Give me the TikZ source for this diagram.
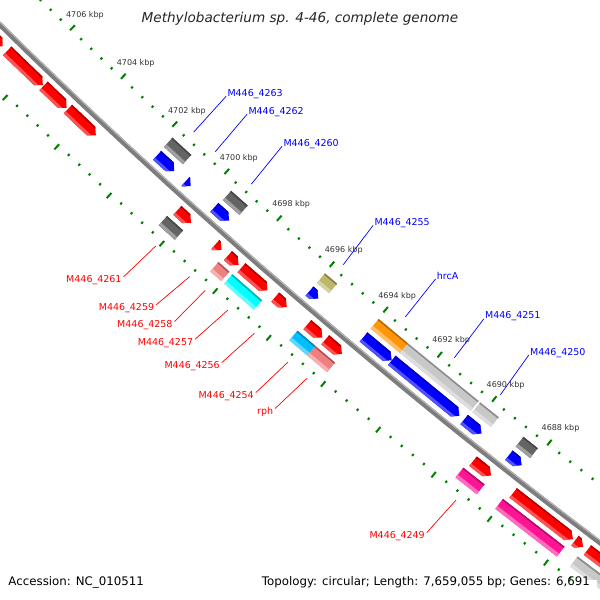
\documentclass[tikz,border=0pt]{standalone}
\usepackage{fontspec}
\setmainfont{DejaVu Sans}
\definecolor{tkgreen}{RGB}{0,128,0}
\definecolor{lblblue}{RGB}{0,0,255}
\definecolor{lblred}{RGB}{255,0,0}
\definecolor{fred}{RGB}{255,0,0}
\definecolor{fblue}{RGB}{0,0,255}
\definecolor{fdgray}{RGB}{100,100,100}
\definecolor{flgray}{RGB}{200,200,200}
\definecolor{folive}{RGB}{189,183,107}
\definecolor{forange}{RGB}{255,150,10}
\definecolor{fcyan}{RGB}{0,255,255}
\definecolor{fsky}{RGB}{0,191,255}
\definecolor{fsalmon}{RGB}{240,128,128}
\definecolor{fpink}{RGB}{255,20,147}
\definecolor{bbgray}{RGB}{125,125,125}
\definecolor{bblight}{RGB}{180,180,180}
\definecolor{ticktext}{RGB}{51,51,51}
\pgfkeys{/gcs/.cd, k/.store in=\gk, r/.store in=\gr, k=4700, r=6189}
\tikzdeclarecoordinatesystem{g}{%
  \pgfkeys{/gcs/.cd,#1}%
  \pgfmathsetmacro\gD{0.0057212*(\gk-4696.9396)}%
  \pgfmathsetmacro\gC{1-\gD*\gD/2}%
  \pgfmathsetmacro\gS{\gD-\gD*\gD*\gD/6}%
  \pgfmathsetmacro\gx{4336-(\gr)*(0.656059*\gC+0.754710*\gS)}%
  \pgfmathsetmacro\gy{-4392+(\gr)*(0.754710*\gC-0.656059*\gS)}%
  \pgfpointxy{\gx}{\gy}%
}
% arrow feature: k1 (start), k2 (tip), rin, rout, colour
\newcommand\arrowfeat[5]{%
  \pgfmathsetmacro\gkb{min(#1,#2+0.18)}%
  \pgfmathsetmacro\grmid{(#3+#4)/2}%
  \begin{scope}
    \fill[#5] (g cs:k=#1,r=#3) -- (g cs:k=\gkb,r=#3) -- (g cs:k=#2,r=\grmid) -- (g cs:k=\gkb,r=#4) -- (g cs:k=#1,r=#4) -- cycle;
    \clip (g cs:k=#1,r=#3) -- (g cs:k=\gkb,r=#3) -- (g cs:k=#2,r=\grmid) -- (g cs:k=\gkb,r=#4) -- (g cs:k=#1,r=#4) -- cycle;
    \fill[#5!68!white] (g cs:k=#1+0.3,r=#4-3) -- (g cs:k=#2-0.3,r=#4-3) -- (g cs:k=#2-0.3,r=#4+1) -- (g cs:k=#1+0.3,r=#4+1) -- cycle;
    \fill[#5!70!black] (g cs:k=#1+0.3,r=#3-1) -- (g cs:k=#2-0.3,r=#3-1) -- (g cs:k=#2-0.3,r=#3+1.6) -- (g cs:k=#1+0.3,r=#3+1.6) -- cycle;
  \end{scope}
}
% box feature: k1, k2, rin, rout, colour
\newcommand\boxfeat[5]{%
  \begin{scope}
    \fill[#5] (g cs:k=#1,r=#3) -- (g cs:k=#2,r=#3) -- (g cs:k=#2,r=#4) -- (g cs:k=#1,r=#4) -- cycle;
    \clip (g cs:k=#1,r=#3) -- (g cs:k=#2,r=#3) -- (g cs:k=#2,r=#4) -- (g cs:k=#1,r=#4) -- cycle;
    \fill[#5!62!white] (g cs:k=#1+0.3,r=#4-3.5) -- (g cs:k=#2-0.3,r=#4-3.5) -- (g cs:k=#2-0.3,r=#4+1) -- (g cs:k=#1+0.3,r=#4+1) -- cycle;
    \fill[#5!70!black] (g cs:k=#1+0.3,r=#3-1) -- (g cs:k=#2-0.3,r=#3-1) -- (g cs:k=#2-0.3,r=#3+1.6) -- (g cs:k=#1+0.3,r=#3+1.6) -- cycle;
  \end{scope}
}
\begin{document}
\begin{tikzpicture}[x=1pt,y=-1pt,
  tickmark/.style={draw=tkgreen, line width=2pt},
  ticklbl/.style={text=ticktext, font=\fontsize{8}{9}\selectfont, inner sep=0pt},
  ulbl/.style={text=lblblue, font=\fontsize{9.5}{11}\selectfont, inner sep=0pt, anchor=base west},
  llbl/.style={text=lblred, font=\fontsize{9.5}{11}\selectfont, inner sep=0pt, anchor=base east},
  uline/.style={draw=lblblue, line width=0.7pt},
  lline/.style={draw=lblred, line width=0.7pt},
  legend/.style={text=black, font=\fontsize{11.8}{14}\selectfont, inner sep=0pt}]
\useasboundingbox (0,0) rectangle (600,600);
\clip (0,0) rectangle (600,600);
\fill[white] (0,0) rectangle (600,600);

% ticks
\foreach \n in {-62,...,8}{
  \pgfmathsetmacro\kk{4706+0.4*\n}
  \pgfmathtruncatemacro\mj{mod(abs(\n),5)==0 ? 1 : 0}
  \ifnum\mj=1
    \draw[tickmark] (g cs:k=\kk,r=6137.5) -- (g cs:k=\kk,r=6144.5);
    \draw[tickmark] (g cs:k=\kk,r=6234.5) -- (g cs:k=\kk,r=6241.5);
  \else
    \draw[tickmark] (g cs:k=\kk,r=6142) -- (g cs:k=\kk,r=6144.5);
    \draw[tickmark] (g cs:k=\kk,r=6234.5) -- (g cs:k=\kk,r=6237);
  \fi
}
\foreach \kv in {4706,4704,...,4688}{
  \node[ticklbl] (t\kv) at (g cs:k=\kv,r=6123) {\kv{} kbp};
}

% backbone
\draw[bbgray, line width=5pt] plot[domain=4683:4710, samples=40] (g cs:k=\x,r=6189.5);
\draw[bblight, line width=1.2pt] plot[domain=4683:4710, samples=40] (g cs:k=\x,r=6187.6);

% upper lane 2 (boxes)
\boxfeat{4701.79}{4701.06}{6152.5}{6165}{fdgray}
\boxfeat{4699.54}{4698.91}{6152.5}{6165}{fdgray}
\boxfeat{4695.98}{4695.53}{6152.5}{6165}{folive}
\boxfeat{4693.98}{4692.90}{6152.5}{6165}{forange}
\boxfeat{4692.90}{4690.31}{6152.5}{6165}{flgray}
\boxfeat{4690.25}{4689.58}{6152.5}{6165}{flgray}
\boxfeat{4688.68}{4688.16}{6152.5}{6165}{fdgray}
% upper lane 1 (blue arrows)
\arrowfeat{4701.77}{4701.11}{6170}{6182}{fblue}
\arrowfeat{4700.68}{4700.48}{6170}{6182}{fblue}
\arrowfeat{4699.58}{4699.02}{6170}{6182}{fblue}
\arrowfeat{4695.99}{4695.66}{6170}{6182}{fblue}
\arrowfeat{4693.98}{4692.95}{6170}{6182}{fblue}
\arrowfeat{4692.95}{4690.47}{6170}{6182}{fblue}
\arrowfeat{4690.30}{4689.67}{6170}{6182}{fblue}
\arrowfeat{4688.68}{4688.22}{6170}{6182}{fblue}
% lower lane 1 (red arrows)
\arrowfeat{4708.60}{4707.05}{6197}{6209}{fred}
\arrowfeat{4706.87}{4705.48}{6197}{6209}{fred}
\arrowfeat{4705.45}{4704.55}{6197}{6209}{fred}
\arrowfeat{4704.50}{4703.42}{6197}{6209}{fred}
\arrowfeat{4700.30}{4699.78}{6197}{6209}{fred}
\arrowfeat{4698.86}{4698.63}{6197}{6209}{fred}
\arrowfeat{4698.39}{4697.99}{6197}{6209}{fred}
\arrowfeat{4697.88}{4696.90}{6197}{6209}{fred}
\arrowfeat{4696.61}{4696.18}{6197}{6209}{fred}
\arrowfeat{4695.42}{4694.86}{6197}{6209}{fred}
\arrowfeat{4694.76}{4694.14}{6197}{6209}{fred}
\arrowfeat{4689.37}{4688.72}{6197}{6209}{fred}
\arrowfeat{4687.93}{4685.80}{6197}{6209}{fred}
\arrowfeat{4685.73}{4685.44}{6197}{6209}{fred}
\arrowfeat{4685.29}{4684.00}{6197}{6209}{fred}
% lower lane 2 (boxes)
\boxfeat{4700.41}{4699.80}{6214}{6226.5}{fdgray}
\boxfeat{4698.47}{4698.06}{6214}{6226.5}{fsalmon}
\boxfeat{4697.95}{4696.83}{6214}{6226.5}{fcyan}
\boxfeat{4695.52}{4694.85}{6214}{6226.5}{fsky}
\boxfeat{4694.85}{4694.13}{6214}{6226.5}{fsalmon}
\boxfeat{4689.47}{4688.71}{6214}{6226.5}{fpink}
\boxfeat{4688.05}{4685.86}{6214}{6226.5}{fpink}
\boxfeat{4685.40}{4684.00}{6214}{6226.5}{flgray}

% upper labels
\node[ulbl] (u4263) at (227.3,96.3) {M446\_4263};
\node[ulbl] (u4262) at (248.3,114.2) {M446\_4262};
\node[ulbl] (u4260) at (283.3,146.2) {M446\_4260};
\node[ulbl] (u4255) at (374.3,225.4) {M446\_4255};
\node[ulbl] (uhrcA) at (436.7,279) {hrcA};
\node[ulbl] (u4251) at (485,318.9) {M446\_4251};
\node[ulbl] (u4250) at (530,355) {M446\_4250};
\coordinate (cu4263) at (g cs:k=4701.45,r=6134);
\coordinate (cu4262) at (g cs:k=4700.62,r=6134);
\coordinate (cu4260) at (g cs:k=4699.24,r=6134);
\coordinate (cu4255) at (g cs:k=4695.75,r=6134);
\coordinate (cuhrcA) at (g cs:k=4693.44,r=6134);
\coordinate (cu4251) at (g cs:k=4691.62,r=6134);
\coordinate (cu4250) at (g cs:k=4689.94,r=6134);
\foreach \n in {4263,4262,4260,4255,hrcA,4251,4250}{
  \draw[uline] ([xshift=-1.2pt]u\n.base west) -- (cu\n);
}
% lower labels
\node[llbl] (l4261) at (121.7,282.9) {M446\_4261};
\node[llbl] (l4259) at (154.3,310.9) {M446\_4259};
\node[llbl] (l4258) at (172.7,327.6) {M446\_4258};
\node[llbl] (l4257) at (193.3,345.2) {M446\_4257};
\node[llbl] (l4256) at (220,368.6) {M446\_4256};
\node[llbl] (l4254) at (254,398.6) {M446\_4254};
\node[llbl] (lrph) at (273.3,414.5) {rph};
\node[llbl] (l4249) at (425,538.6) {M446\_4249};
\coordinate (cl4261) at (g cs:k=4700.08,r=6244);
\coordinate (cl4259) at (g cs:k=4698.80,r=6244);
\coordinate (cl4258) at (g cs:k=4698.22,r=6244);
\coordinate (cl4257) at (g cs:k=4697.38,r=6244);
\coordinate (cl4256) at (g cs:k=4696.39,r=6244);
\coordinate (cl4254) at (g cs:k=4695.15,r=6244);
\coordinate (clrph) at (g cs:k=4694.45,r=6244);
\coordinate (cl4249) at (g cs:k=4689.07,r=6244);
\foreach \n in {4261,4259,4258,4257,4256,4254,rph,4249}{
  \draw[lline] ([shift={(1.8pt,6pt)}]l\n.base east) -- (cl\n);
}

% title and legend
\node[font=\fontsize{13.6}{16}\selectfont\itshape, text=black!85, anchor=base, inner sep=0pt] (title) at (300,22.7) {Methylobacterium sp. 4-46, complete genome};
\fill[white] (256,579.5) rectangle (596.5,600);
\node[legend, anchor=base west] (acc) at (8.3,585) {Accession: NC\_010511};
\node[legend, anchor=base east] (topo) at (590,585) {Topology: circular; Length: 7,659,055 bp; Genes: 6,691};
\end{tikzpicture}
\end{document}
